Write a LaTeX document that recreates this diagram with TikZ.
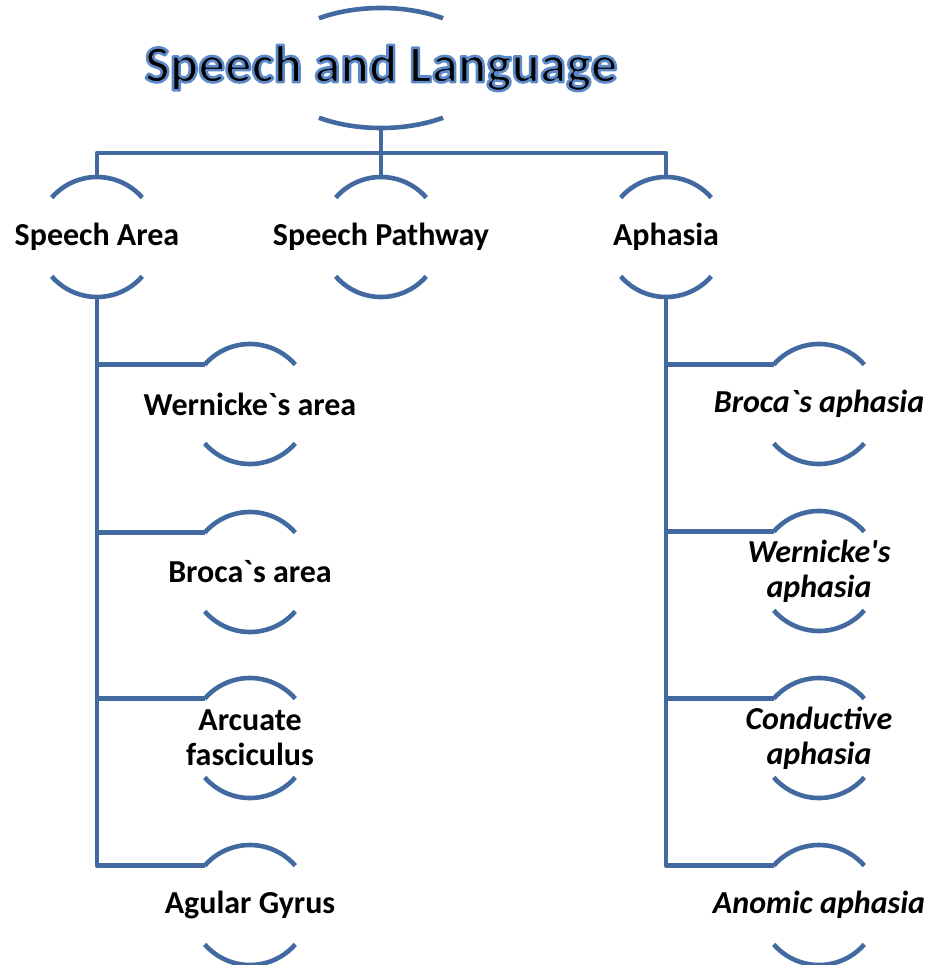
\documentclass[tikz,border=0pt]{standalone}
\usepackage{fontspec}
\setmainfont{Carlito}[Ligatures=TeXOff]
\definecolor{lineblue}{RGB}{66,106,160}
\tikzset{
  ln/.style={draw=lineblue, line width=4.6pt, line join=round},
  lbl/.style={inner sep=0pt, align=center, font=\bfseries\fontsize{32}{35}\selectfont},
  ilbl/.style={lbl, font=\bfseries\itshape\fontsize{32}{35}\selectfont},
  ttlfont/.style={inner sep=0pt, font=\bfseries\fontsize{53}{60}\selectfont}
}
\newcommand\ringarcs[1]{%
  \draw[ln] ([shift={(139:60)}]#1.center) arc[start angle=139,end angle=41,radius=60];
  \draw[ln] ([shift={(221:60)}]#1.center) arc[start angle=221,end angle=319,radius=60];
  \coordinate (#1-t) at ([yshift=60]#1.center);
  \coordinate (#1-b) at ([yshift=-60]#1.center);
  \coordinate (#1-l) at ([shift={(139:60)}]#1.center);
}
\newcommand\glowtext[1]{\special{pdf:literal direct 2 Tr 2.6 w 1 j 0.36 0.54 0.79 RG}#1\special{pdf:literal direct 0 Tr}}
\begin{document}
\begin{tikzpicture}[x=1pt,y=1pt]
\useasboundingbox (0,0) rectangle (928,-965);
% title
\node[ttlfont] (ttl) at (381,-68) {\glowtext{Speech and Language}};
\draw[ln] ([shift={(124:111 and 60)}]ttl.center) arc[start angle=124,end angle=56,x radius=111,y radius=60];
\draw[ln] ([shift={(236:111 and 60)}]ttl.center) arc[start angle=236,end angle=304,x radius=111,y radius=60];
\coordinate (ttl-b) at ([yshift=-60]ttl.center);
% level 1
\node[lbl] (sa) at (97,-237) {Speech Area};
\node[lbl] (sp) at (381,-237) {Speech Pathway};
\node[lbl] (ap) at (666,-237) {Aphasia};
\ringarcs{sa}\ringarcs{sp}\ringarcs{ap}
% level 2 left
\node[lbl] (wa) at (250,-404) {Wernicke`s area};
\node[lbl] (ba) at (250,-572) {Broca`s area};
\node[lbl] (af) at (250,-738) {Arcuate\\fasciculus};
\node[lbl] (ag) at (250,-905) {Agular Gyrus};
\ringarcs{wa}\ringarcs{ba}\ringarcs{af}\ringarcs{ag}
% level 2 right
\node[ilbl] (bap) at (819,-404) {Broca`s aphasia};
\node[ilbl] (wap) at (819,-571) {Wernicke's\\aphasia};
\node[ilbl] (cap) at (819,-738) {Conductive\\aphasia};
\node[ilbl] (aap) at (819,-905) {Anomic aphasia};
\ringarcs{bap}\ringarcs{wap}\ringarcs{cap}\ringarcs{aap}
% connectors
\draw[ln] (ttl-b) -- (sp-t);
\draw[ln] (sa-t) -- ++(0,24) -| (ap-t);
\foreach \c in {wa,ba,af,ag}{\draw[ln] (sa-b) |- (\c-l);}
\foreach \c in {bap,wap,cap,aap}{\draw[ln] (ap-b) |- (\c-l);}
\end{tikzpicture}
\end{document}
